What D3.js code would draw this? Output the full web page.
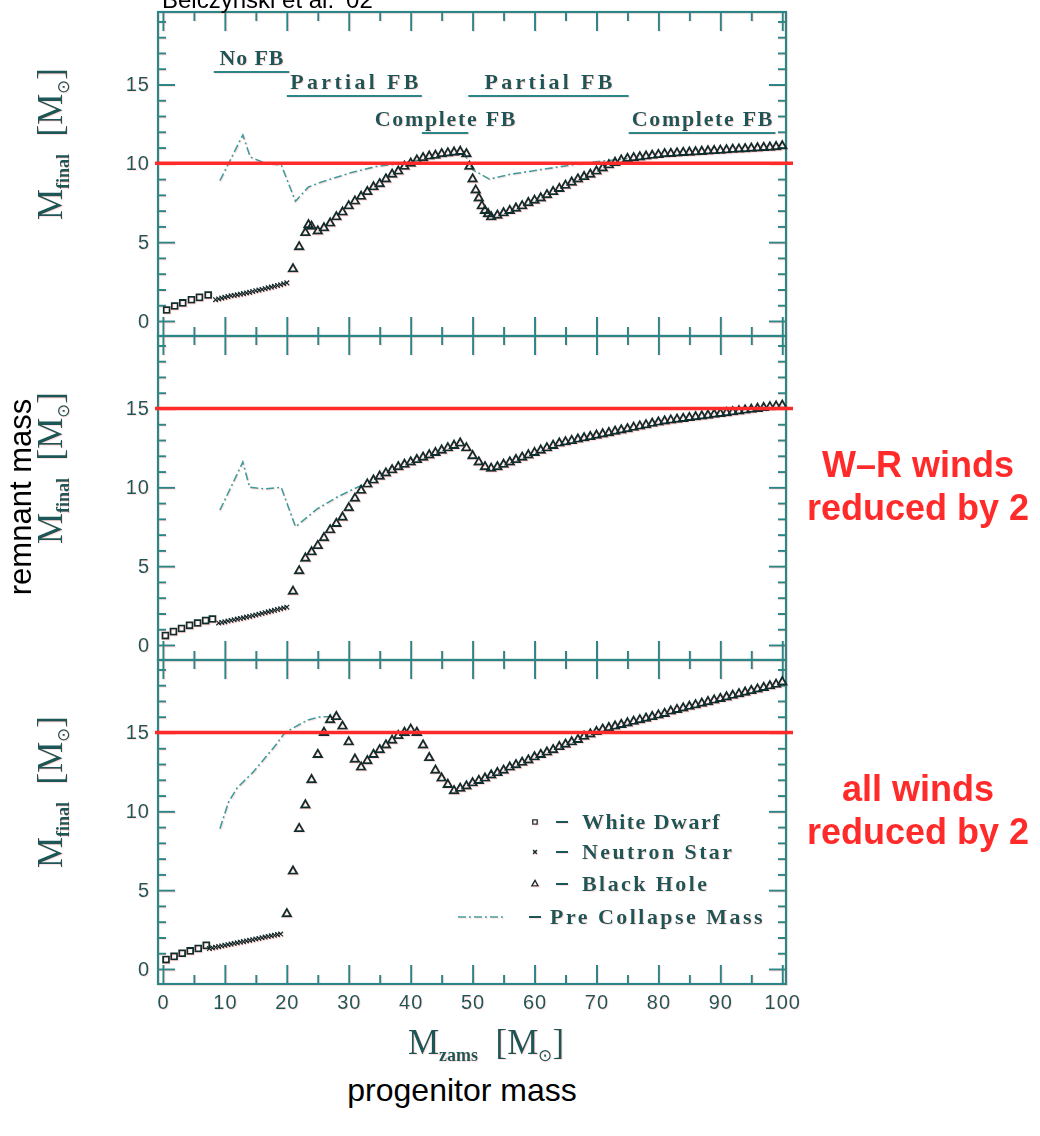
<!DOCTYPE html>
<html>
<head>
<meta charset="utf-8">
<script src="https://cdn.jsdelivr.net/npm/d3@7"></script>
<style>
  body { margin: 0; background: #fff; }
  svg { display: block; }
</style>
</head>
<body>
<svg id="chart" width="1040" height="1136"></svg>
<script>
// ---------------- data ----------------
// progenitor (ZAMS) mass ticks and remnant-mass ticks
const massMajor = [0, 10, 20, 30, 40, 50, 60, 70, 80, 90, 100];
const massMinor = [5, 15, 25, 35, 45, 55, 65, 75, 85, 95];
const remMajor = [0, 5, 10, 15];
const remMinor = [1, 2, 3, 4, 6, 7, 8, 9, 11, 12, 13, 14, 16, 17, 18, 19];

// fallback regimes (top panel)
const fbLabels = ["No FB", "Partial FB", "Complete FB", "Partial FB", "Complete FB"];
const fbFrom   = [8.2, 20.0, 41.8, 49.3, 75.2];
const fbTo     = [20.4, 41.8, 49.3, 75.2, 98.9];
const fbRow    = [0, 1, 2, 1, 2];

const legendLabels = ["White Dwarf", "Neutron Star", "Black Hole", "Pre Collapse Mass"];

// reference masses marked on each panel
const refMass = [10, 15, 15];
const sideNotes = [[], ["W\u2013R winds", "reduced by 2"], ["all winds", "reduced by 2"]];

// --- standard winds: [M_zams, M_final]
const wdStd = [[0.6,0.7],[1.9,0.95],[3.2,1.15],[4.6,1.35],[5.9,1.5],[7.3,1.65]];
const nsStd = [[8.5,1.35],[9,1.4],[9.5,1.45],[10,1.5],[10.5,1.55],[11,1.6],[11.5,1.62],[12,1.66],[12.5,1.7],[13,1.74],[13.5,1.78],[14,1.82],[14.5,1.87],[15,1.92],[15.5,1.96],[16,2.0],[16.5,2.05],[17,2.1],[17.5,2.15],[18,2.2],[18.5,2.25],[19,2.3],[19.5,2.36],[20,2.42]];
const bhStd = [[21,3.3],[22,4.7],[23,5.6],[23.5,6.1],[24,6.0],[25,5.7],[26,5.9],[27,6.2],[28,6.6],[29,6.9],[30,7.3],[31,7.6],[32,7.9],[33,8.2],[34,8.5],[35,8.7],[36,9.0],[37,9.3],[38,9.5],[39,9.8],[40,10.0],[41,10.2],[42,10.35],[43,10.45],[44,10.5],[45,10.6],[46,10.65],[47,10.7],[48,10.75],[49,10.6],[49.5,9.8],[50,9.0],[50.5,8.3],[51,7.8],[51.5,7.3],[52,7.0],[52.5,6.8],[53,6.6],[54,6.7],[55,6.85],[56,7.0],[57,7.15],[58,7.3],[59,7.5],[60,7.65],[61,7.8],[62,8.0],[63,8.2],[64,8.4],[65,8.6],[66,8.8],[67,9.0],[68,9.15],[69,9.3],[70,9.5],[71,9.7],[72,9.9],[73,10.05],[74,10.2],[75,10.3],[76,10.35],[77,10.4],[78,10.45],[79,10.5],[80,10.55],[81,10.6],[82,10.62],[83,10.65],[84,10.68],[85,10.7],[86,10.72],[87,10.75],[88,10.78],[89,10.8],[90,10.82],[91,10.85],[92,10.88],[93,10.9],[94,10.92],[95,10.95],[96,10.97],[97,11.0],[98,11.02],[99,11.05],[100,11.1]];
const preStd = [
  [[9.2,8.9],[12.9,11.8],[14.1,10.4],[16.6,10.0],[19.1,9.9],[21.4,7.6],[23.5,8.5],[25.5,8.8],[30.3,9.4],[34.4,9.8],[38.5,10.0],[41.2,10.2]],
  [[48.5,10.75],[50,9.6],[52.7,9.0],[56,9.3],[61,9.6],[66,9.9],[71,10.15],[75,10.3]]
];

// --- Wolf-Rayet winds reduced by 2
const wdWR = [[0.4,0.6],[1.7,0.85],[3.0,1.05],[4.3,1.25],[5.6,1.4],[6.9,1.55],[8.0,1.65]];
const nsWR = [[9,1.4],[9.5,1.43],[10,1.47],[10.5,1.52],[11,1.56],[11.5,1.6],[12,1.64],[12.5,1.68],[13,1.72],[13.5,1.77],[14,1.81],[14.5,1.86],[15,1.9],[15.5,1.95],[16,2.0],[16.5,2.05],[17,2.1],[17.5,2.15],[18,2.2],[18.5,2.25],[19,2.3],[19.5,2.35],[20,2.4]];
const bhWR = [[21,3.4],[22,4.7],[23,5.5],[24,5.9],[25,6.3],[26,6.8],[27,7.3],[28,7.7],[29,8.1],[30,8.7],[31,9.3],[32,9.8],[33,10.2],[34,10.45],[35,10.7],[36,10.9],[37,11.1],[38,11.3],[39,11.45],[40,11.6],[41,11.75],[42,11.9],[43,12.05],[44,12.2],[45,12.35],[46,12.5],[47,12.65],[48,12.8],[49,12.5],[50,12.0],[51,11.6],[52,11.3],[53,11.2],[54,11.3],[55,11.45],[56,11.6],[57,11.75],[58,11.9],[59,12.05],[60,12.2],[61,12.35],[62,12.5],[63,12.65],[64,12.8],[65,12.88],[66,12.96],[67,13.05],[68,13.13],[69,13.21],[70,13.3],[71,13.38],[72,13.46],[73,13.55],[74,13.63],[75,13.71],[76,13.8],[77,13.88],[78,13.96],[79,14.05],[80,14.13],[81,14.2],[82,14.26],[83,14.31],[84,14.36],[85,14.42],[86,14.47],[87,14.52],[88,14.57],[89,14.63],[90,14.68],[91,14.73],[92,14.78],[93,14.84],[94,14.89],[95,14.94],[96,15.0],[97,15.05],[98,15.1],[99,15.15],[100,15.2]];
const preWR = [
  [[9.2,8.55],[12.9,11.6],[14.0,10.0],[16.5,9.9],[19.1,10.0],[21.4,7.5],[24.8,8.6],[28.2,9.4],[30.3,9.8],[32.5,10.2]]
];

// --- all winds reduced by 2
const wdAll = [[0.5,0.6],[1.8,0.8],[3.1,1.0],[4.4,1.15],[5.7,1.3],[7.0,1.5]];
const nsAll = [[7.5,1.3],[8,1.34],[8.5,1.38],[9,1.42],[9.5,1.46],[10,1.5],[10.5,1.54],[11,1.58],[11.5,1.62],[12,1.66],[12.5,1.7],[13,1.74],[13.5,1.78],[14,1.82],[14.5,1.86],[15,1.9],[15.5,1.94],[16,1.98],[16.5,2.02],[17,2.06],[17.5,2.1],[18,2.14],[18.5,2.18],[19,2.22]];
const bhAll = [[20,3.5],[21,6.2],[22,8.9],[23,10.4],[24,12.0],[25,13.6],[26,15.0],[27,15.8],[28,16.0],[29,15.4],[30,14.4],[31,13.3],[32,12.8],[33,13.2],[34,13.6],[35,13.9],[36,14.2],[37,14.5],[38,14.8],[39,15.0],[40,15.2],[41,15.0],[42,14.2],[43,13.4],[44,12.6],[45,12.1],[46,11.7],[47,11.3],[48,11.45],[49,11.6],[50,11.8],[51,11.95],[52,12.1],[53,12.3],[54,12.45],[55,12.6],[56,12.8],[57,12.95],[58,13.1],[59,13.25],[60,13.45],[61,13.6],[62,13.75],[63,13.9],[64,14.1],[65,14.25],[66,14.4],[67,14.55],[68,14.75],[69,14.9],[70,15.05],[71,15.2],[72,15.3],[73,15.4],[74,15.5],[75,15.6],[76,15.7],[77,15.8],[78,15.9],[79,16.0],[80,16.1],[81,16.2],[82,16.35],[83,16.45],[84,16.55],[85,16.65],[86,16.75],[87,16.85],[88,16.95],[89,17.05],[90,17.15],[91,17.25],[92,17.35],[93,17.45],[94,17.55],[95,17.65],[96,17.75],[97,17.85],[98,17.95],[99,18.05],[100,18.2]];
const preAll = [
  [[9.2,8.9],[10.6,10.6],[12.0,11.5],[14.6,12.5],[18.0,14.1],[19.7,15.0],[23.4,15.8],[25.5,16.0],[27.5,16.0]]
];

// ---------------- layout & style ----------------
const axisColor = "#2b8787";
const inkColor = "#1a5656";
const markColor = "#0f2e2e";
const preColor = "#3c9c9c";
const hiRed = "#ff2b2b";
const serif = "'Liberation Serif', 'Times New Roman', serif";
const sans = "'Liberation Sans', Arial, Helvetica, sans-serif";

const frameLeft = 158, frameRight = 786;
const panelH = 324;
const panelTops = [12, 336, 660];
const yDomain = [-0.95, 19.6];

const panels = [
  { wd: wdStd, ns: nsStd, bh: bhStd, pre: preStd },
  { wd: wdWR,  ns: nsWR,  bh: bhWR,  pre: preWR  },
  { wd: wdAll, ns: nsAll, bh: bhAll, pre: preAll }
];

const svg = d3.select("#chart");
const defs = svg.append("defs");

// soft scan look with a faint red colour fringe
const flt = defs.append("filter").attr("id", "scan")
  .attr("filterUnits", "userSpaceOnUse")
  .attr("x", 0).attr("y", 0).attr("width", 1040).attr("height", 1136);
flt.append("feGaussianBlur").attr("in", "SourceGraphic").attr("stdDeviation", 0.6).attr("result", "soft");
flt.append("feOffset").attr("in", "soft").attr("dx", 1.3).attr("dy", 1.0).attr("result", "shift");
flt.append("feColorMatrix").attr("in", "shift").attr("type", "matrix")
  .attr("values", "0 0 0 0 1  0 0 0 0 0.4  0 0 0 0 0.4  0 0 0 0.35 0").attr("result", "fringe");
const mrg = flt.append("feMerge");
mrg.append("feMergeNode").attr("in", "fringe");
mrg.append("feMergeNode").attr("in", "soft");

const fig = svg.append("g").attr("filter", "url(#scan)");

const x = d3.scaleLinear().domain([-0.8, 100.6]).range([frameLeft, frameRight]);

const xSym = d3.symbolX || d3.symbolCross;
const sqPath = d3.symbol().type(d3.symbolSquare).size(34)();
const xPath = d3.symbol().type(xSym).size(16)();
const triPath = d3.symbol().type(d3.symbolTriangle).size(30)();

function styleAxis(sel) {
  sel.select(".domain").remove();
  sel.selectAll(".tick line").attr("stroke", axisColor).attr("stroke-width", 2);
  sel.selectAll(".tick text")
    .attr("fill", inkColor)
    .attr("font-family", sans)
    .attr("font-size", 20)
    .attr("letter-spacing", 1);
}

function massLabel(sel, sub, size) {
  // "M_sub [M_sun]" with subscripts
  sel.append("tspan").attr("font-size", size).text("M");
  sel.append("tspan").attr("font-size", 18).attr("font-weight", "bold").attr("dy", 7).text(sub);
  sel.append("tspan").attr("font-size", size).attr("dy", -7).text("\u2002[M");
  sel.append("tspan").attr("font-size", 17).attr("dy", 7).text("\u2299");
  sel.append("tspan").attr("font-size", size).attr("dy", -7).text("]");
}

const yScales = [];

panels.forEach((p, i) => {
  const top = panelTops[i];
  const bottom = top + panelH;
  const y = d3.scaleLinear().domain(yDomain).range([bottom, top]);
  yScales.push(y);
  const g = fig.append("g");

  // frame
  g.append("rect")
    .attr("x", frameLeft).attr("y", top)
    .attr("width", frameRight - frameLeft).attr("height", panelH)
    .attr("fill", "none").attr("stroke", axisColor).attr("stroke-width", 2.2);

  // x ticks on bottom and top (inward)
  const isLast = i === panels.length - 1;
  g.append("g").attr("transform", `translate(0,${bottom})`)
    .call(d3.axisBottom(x).tickValues(massMajor).tickSizeInner(-19).tickSizeOuter(0)
      .tickPadding(11).tickFormat(isLast ? d3.format("d") : () => ""))
    .call(styleAxis);
  g.append("g").attr("transform", `translate(0,${bottom})`)
    .call(d3.axisBottom(x).tickValues(massMinor).tickSizeInner(-9).tickSizeOuter(0).tickFormat(() => ""))
    .call(styleAxis);
  g.append("g").attr("transform", `translate(0,${top})`)
    .call(d3.axisTop(x).tickValues(massMajor).tickSizeInner(-19).tickSizeOuter(0).tickFormat(() => ""))
    .call(styleAxis);
  g.append("g").attr("transform", `translate(0,${top})`)
    .call(d3.axisTop(x).tickValues(massMinor).tickSizeInner(-9).tickSizeOuter(0).tickFormat(() => ""))
    .call(styleAxis);

  // y ticks on left (labelled) and right
  g.append("g").attr("transform", `translate(${frameLeft},0)`)
    .call(d3.axisLeft(y).tickValues(remMajor).tickSizeInner(-17).tickSizeOuter(0).tickPadding(8).tickFormat(d3.format("d")))
    .call(styleAxis);
  g.append("g").attr("transform", `translate(${frameLeft},0)`)
    .call(d3.axisLeft(y).tickValues(remMinor).tickSizeInner(-8).tickSizeOuter(0).tickFormat(() => ""))
    .call(styleAxis);
  g.append("g").attr("transform", `translate(${frameRight},0)`)
    .call(d3.axisRight(y).tickValues(remMajor).tickSizeInner(-17).tickSizeOuter(0).tickFormat(() => ""))
    .call(styleAxis);
  g.append("g").attr("transform", `translate(${frameRight},0)`)
    .call(d3.axisRight(y).tickValues(remMinor).tickSizeInner(-8).tickSizeOuter(0).tickFormat(() => ""))
    .call(styleAxis);

  // y-axis title: M_final [M_sun]
  const cy = (top + bottom) / 2 - 30;
  const yl = g.append("text")
    .attr("transform", `translate(62,${cy}) rotate(-90)`)
    .attr("text-anchor", "middle")
    .attr("fill", inkColor)
    .attr("font-family", serif);
  massLabel(yl, "final", 35);

  // pre-collapse mass (dash-dot)
  const line = d3.line().x(d => x(d[0])).y(d => y(d[1]));
  p.pre.forEach(seg => {
    g.append("path").attr("d", line(seg))
      .attr("fill", "none").attr("stroke", preColor).attr("stroke-width", 1.6)
      .attr("stroke-dasharray", "8,3,2,3");
  });

  // remnants
  const marks = g.append("g").attr("fill", "none").attr("stroke", markColor);
  marks.selectAll(".wd").data(p.wd).join("path")
    .attr("d", sqPath).attr("stroke-width", 1.8)
    .attr("transform", d => `translate(${x(d[0])},${y(d[1])})`);
  marks.selectAll(".ns").data(p.ns).join("path")
    .attr("d", xPath).attr("stroke-width", 1.3)
    .attr("transform", d => `translate(${x(d[0])},${y(d[1])})`);
  marks.selectAll(".bh").data(p.bh).join("path")
    .attr("d", triPath).attr("stroke-width", 1.9)
    .attr("transform", d => `translate(${x(d[0])},${y(d[1])})`);
});

// fallback regimes in the top panel
const rowLine = [60, 84, 121];
fbLabels.forEach((lab, k) => {
  const ly = panelTops[0] + rowLine[fbRow[k]];
  const x0 = x(fbFrom[k]), x1 = x(fbTo[k]);
  fig.append("line").attr("x1", x0).attr("x2", x1).attr("y1", ly).attr("y2", ly)
    .attr("stroke", axisColor).attr("stroke-width", 2);
  fig.append("text")
    .attr("x", (x0 + x1) / 2).attr("y", ly - 7)
    .attr("text-anchor", "middle")
    .attr("font-family", serif).attr("font-weight", "bold").attr("font-size", 22)
    .attr("textLength", lab.length * 12.8).attr("lengthAdjust", "spacing")
    .attr("fill", inkColor)
    .text(lab);
});

// legend in the bottom panel
const legTop = panelTops[2];
const legRows = [169, 199, 231, 264];
const legSymbols = [sqPath, xPath, triPath, null];
const legSymSize = [0.75, 0.8, 0.75];
legendLabels.forEach((lab, k) => {
  const by = legTop + legRows[k];
  const isLine = legSymbols[k] === null;
  if (isLine) {
    fig.append("line").attr("x1", 458).attr("x2", 506)
      .attr("y1", by - 7).attr("y2", by - 7)
      .attr("stroke", preColor).attr("stroke-width", 1.6)
      .attr("stroke-dasharray", "8,3,2,3");
  } else {
    fig.append("path").attr("d", legSymbols[k])
      .attr("transform", `translate(535,${by - 7}) scale(${legSymSize[k]})`)
      .attr("fill", "none").attr("stroke", markColor).attr("stroke-width", 1.8);
  }
  const dashX = isLine ? 529 : 556;
  const textX = isLine ? 550 : 582;
  fig.append("line").attr("x1", dashX).attr("x2", dashX + 12)
    .attr("y1", by - 7).attr("y2", by - 7)
    .attr("stroke", inkColor).attr("stroke-width", 2);
  fig.append("text")
    .attr("x", textX).attr("y", by)
    .attr("font-family", serif).attr("font-weight", "bold").attr("font-size", 22)
    .attr("textLength", lab.length * 12.5).attr("lengthAdjust", "spacing")
    .attr("fill", inkColor)
    .text(lab);
});

// x-axis title: M_zams [M_sun]
const xl = fig.append("text")
  .attr("x", 486).attr("y", 1054)
  .attr("text-anchor", "middle")
  .attr("fill", inkColor).attr("font-family", serif);
massLabel(xl, "zams", 35);

// ---------------- overlays ----------------
const over = svg.append("g");

// threshold masses
refMass.forEach((m, i) => {
  const yy = yScales[i](m);
  over.append("line")
    .attr("x1", frameLeft - 3).attr("x2", frameRight + 7)
    .attr("y1", yy).attr("y2", yy)
    .attr("stroke", hiRed).attr("stroke-width", 3.5);
});

// notes beside the panels
sideNotes.forEach((lines, i) => {
  lines.forEach((t, j) => {
    over.append("text")
      .attr("x", 918).attr("y", panelTops[i] + 141 + j * 43)
      .attr("text-anchor", "middle")
      .attr("font-family", sans).attr("font-weight", "bold").attr("font-size", 36)
      .attr("fill", hiRed)
      .text(t);
  });
});

over.append("text")
  .attr("x", 162).attr("y", 8)
  .attr("font-family", sans).attr("font-size", 24).attr("fill", "#000")
  .text("Belczynski et al. \u201902");

over.append("text")
  .attr("transform", "translate(31,497) rotate(-90)")
  .attr("text-anchor", "middle")
  .attr("font-family", sans).attr("font-size", 31).attr("fill", "#000")
  .text("remnant mass");

over.append("text")
  .attr("x", 462).attr("y", 1101)
  .attr("text-anchor", "middle")
  .attr("font-family", sans).attr("font-size", 32).attr("fill", "#000")
  .text("progenitor mass");
</script>
</body>
</html>
